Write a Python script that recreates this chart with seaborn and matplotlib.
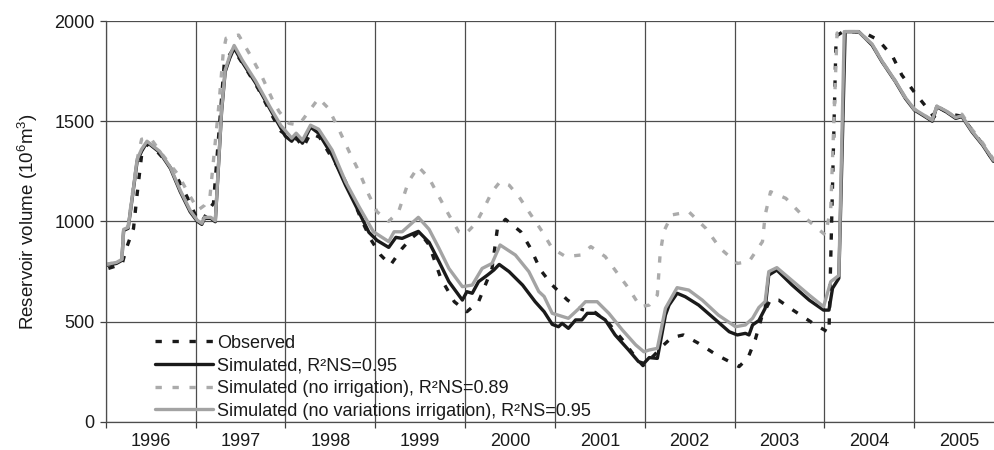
import matplotlib
matplotlib.use("Agg")
import matplotlib.pyplot as plt
import seaborn as sns
import numpy as np

# ---------------- data (decimal year, volume 10^6 m^3) ----------------
obs_t = [1996.03, 1996.10, 1996.18, 1996.23, 1996.31, 1996.35, 1996.40, 1996.47, 1996.58, 1996.68,
         1996.80, 1996.92, 1997.03, 1997.08, 1997.15, 1997.20, 1997.27, 1997.32, 1997.42, 1997.55,
         1997.70, 1997.85, 1997.95, 1998.05, 1998.13, 1998.20, 1998.28, 1998.38, 1998.50, 1998.60,
         1998.70, 1998.84, 1998.95, 1999.06, 1999.17, 1999.30, 1999.40, 1999.49, 1999.60, 1999.73,
         1999.88, 2000.02, 2000.15, 2000.30, 2000.36, 2000.45, 2000.62, 2000.73, 2000.84, 2000.97,
         2001.14, 2001.30, 2001.45, 2001.60, 2001.75, 2001.90, 2001.98, 2002.10, 2002.21, 2002.30,
         2002.43, 2002.60, 2002.80, 2003.05, 2003.15, 2003.23, 2003.30, 2003.40, 2003.49, 2003.65,
         2003.90, 2004.05, 2004.13, 2004.20, 2004.38, 2004.45, 2004.60, 2004.76, 2004.86, 2005.01,
         2005.16, 2005.22, 2005.27, 2005.40, 2005.53, 2005.65, 2005.76, 2005.88]
obs_v = [765, 775, 782, 865, 965, 1135, 1330, 1390, 1345, 1295,
         1215, 1110, 1000, 1005, 1060, 1090, 1500, 1790, 1860, 1770,
         1660, 1530, 1450, 1420, 1410, 1370, 1440, 1420, 1330, 1260,
         1170, 1015, 910, 832, 782, 865, 915, 948, 882, 716,
         599, 549, 599, 765, 965, 1010, 948, 865, 757, 682,
         607, 560, 545, 490, 410, 320, 280, 330, 383, 420,
         433, 391, 333, 275, 320, 410, 520, 610, 607, 557,
         483, 445, 1925, 1945, 1945, 1940, 1905, 1822, 1731, 1639,
         1556, 1520, 1570, 1535, 1525, 1450, 1385, 1300]

sim_t = [1996.00, 1996.12, 1996.18, 1996.20, 1996.25, 1996.31, 1996.35, 1996.40, 1996.46, 1996.60,
         1996.72, 1996.83, 1996.94, 1997.02, 1997.07, 1997.10, 1997.17, 1997.22, 1997.29, 1997.33,
         1997.38, 1997.43, 1997.52, 1997.67, 1997.83, 1997.95, 1998.00, 1998.07, 1998.12, 1998.19,
         1998.28, 1998.37, 1998.52, 1998.67, 1998.82, 1998.93, 1999.02, 1999.15, 1999.23, 1999.30,
         1999.40, 1999.48, 1999.60, 1999.71, 1999.82, 1999.97, 2000.02, 2000.08, 2000.15, 2000.25,
         2000.32, 2000.38, 2000.49, 2000.64, 2000.78, 2000.88, 2000.97, 2001.04, 2001.08, 2001.15,
         2001.23, 2001.30, 2001.36, 2001.45, 2001.56, 2001.67, 2001.82, 2001.93, 2001.99, 2002.05,
         2002.14, 2002.23, 2002.27, 2002.36, 2002.45, 2002.60, 2002.79, 2002.94, 2003.03, 2003.12,
         2003.16, 2003.20, 2003.27, 2003.34, 2003.38, 2003.47, 2003.64, 2003.83, 2003.99, 2004.05,
         2004.09, 2004.16, 2004.23, 2004.38, 2004.53, 2004.64, 2004.79, 2004.90, 2005.00, 2005.09,
         2005.20, 2005.25, 2005.35, 2005.46, 2005.53, 2005.64, 2005.76, 2005.88]
sim_v = [780, 790, 805, 955, 965, 1165, 1300, 1350, 1395, 1345,
         1265, 1148, 1048, 1000, 985, 1015, 1015, 998, 1548, 1747,
         1814, 1865, 1795, 1690, 1560, 1465, 1425, 1400, 1430, 1390,
         1470, 1440, 1330, 1180, 1045, 945, 905, 870, 920, 915,
         935, 950, 895, 799, 699, 607, 649, 641, 699, 732,
         757, 785, 749, 682, 599, 549, 486, 474, 491, 466,
         508, 508, 541, 541, 508, 433, 358, 300, 291, 320,
         316, 532, 582, 641, 624, 582, 508, 449, 433, 441,
         433, 483, 505, 566, 732, 757, 682, 607, 557, 557,
         666, 716, 1947, 1947, 1880, 1797, 1697, 1614, 1556, 1531,
         1500, 1572, 1548, 1514, 1523, 1448, 1381, 1300]

noirr_t = [1996.00, 1996.12, 1996.18, 1996.20, 1996.25, 1996.31, 1996.36, 1996.40, 1996.50, 1996.62,
           1996.81, 1996.92, 1997.03, 1997.10, 1997.16, 1997.26, 1997.31, 1997.34, 1997.48, 1997.63,
           1997.74, 1997.85, 1997.93, 1998.04, 1998.15, 1998.26, 1998.37, 1998.48, 1998.59, 1998.71,
           1998.82, 1998.93, 1999.02, 1999.15, 1999.26, 1999.37, 1999.48, 1999.60, 1999.71, 1999.82,
           1999.93, 2000.00, 2000.12, 2000.21, 2000.30, 2000.39, 2000.49, 2000.60, 2000.71, 2000.86,
           2000.97, 2001.12, 2001.29, 2001.40, 2001.56, 2001.71, 2001.82, 2001.95, 2002.05, 2002.14,
           2002.17, 2002.21, 2002.30, 2002.49, 2002.68, 2002.84, 2003.03, 2003.16, 2003.31, 2003.34,
           2003.40, 2003.57, 2003.75, 2003.92, 2004.01, 2004.07, 2004.14, 2004.22, 2004.38, 2004.53,
           2004.64, 2004.79, 2004.90, 2005.00, 2005.09, 2005.20, 2005.25, 2005.35, 2005.46, 2005.53,
           2005.64, 2005.76, 2005.88]
noirr_v = [785, 795, 810, 960, 975, 1180, 1330, 1410, 1415, 1340,
           1231, 1140, 1057, 1080, 1120, 1581, 1850, 1914, 1930, 1814,
           1722, 1614, 1548, 1489, 1481, 1548, 1614, 1564, 1464, 1348,
           1248, 1131, 1048, 1000, 1048, 1198, 1273, 1215, 1123, 1032,
           948, 935, 990, 1065, 1148, 1198, 1181, 1123, 1048, 948,
           865, 824, 832, 874, 824, 732, 666, 574, 582, 632,
           832, 948, 1032, 1048, 965, 865, 790, 799, 899, 1032,
           1148, 1115, 1032, 965, 932, 1065, 1940, 1947, 1947, 1885,
           1800, 1700, 1618, 1560, 1535, 1505, 1575, 1552, 1520, 1535,
           1460, 1392, 1310]

novar_t = [1996.00, 1996.12, 1996.18, 1996.20, 1996.25, 1996.31, 1996.35, 1996.40, 1996.46, 1996.60,
           1996.72, 1996.83, 1996.94, 1997.02, 1997.07, 1997.10, 1997.17, 1997.22, 1997.29, 1997.33,
           1997.38, 1997.43, 1997.52, 1997.67, 1997.83, 1997.95, 1998.04, 1998.07, 1998.12, 1998.19,
           1998.28, 1998.37, 1998.52, 1998.67, 1998.82, 1998.98, 1999.15, 1999.21, 1999.30, 1999.48,
           1999.60, 1999.71, 1999.82, 1999.97, 2000.08, 2000.19, 2000.30, 2000.39, 2000.56, 2000.71,
           2000.82, 2000.88, 2000.97, 2001.15, 2001.27, 2001.34, 2001.47, 2001.60, 2001.75, 2001.90,
           2001.99, 2002.05, 2002.14, 2002.23, 2002.36, 2002.49, 2002.64, 2002.82, 2003.01, 2003.12,
           2003.20, 2003.27, 2003.34, 2003.38, 2003.47, 2003.83, 2003.99, 2004.07, 2004.16, 2004.22,
           2004.38, 2004.53, 2004.64, 2004.79, 2004.90, 2005.00, 2005.09, 2005.20, 2005.25, 2005.35,
           2005.46, 2005.53, 2005.64, 2005.76, 2005.88]
novar_v = [785, 795, 810, 960, 970, 1170, 1310, 1360, 1400, 1350,
           1270, 1155, 1055, 1005, 990, 1020, 1020, 1003, 1555, 1755,
           1825, 1878, 1805, 1700, 1570, 1478, 1432, 1415, 1440, 1405,
           1480, 1460, 1356, 1198, 1073, 948, 899, 948, 948, 1020,
           960, 865, 765, 674, 682, 765, 790, 882, 832, 749,
           650, 625, 541, 516, 566, 599, 599, 541, 458, 383,
           349, 358, 366, 566, 669, 657, 607, 532, 474, 483,
           516, 570, 600, 749, 769, 632, 574, 699, 730, 1947,
           1947, 1885, 1800, 1700, 1618, 1560, 1535, 1505, 1575, 1552,
           1518, 1527, 1452, 1385, 1305]

labels = ["Observed",
          "Simulated, R\u00b2NS=0.95",
          "Simulated (no irrigation), R\u00b2NS=0.89",
          "Simulated (no variations irrigation), R\u00b2NS=0.95"]
year_labels = [str(y) for y in range(1996, 2006)]

# ---------------- style ----------------
sns.set_theme(style="white")
plt.rcParams['font.family'] = ['Liberation Sans', 'DejaVu Sans']
plt.rcParams['mathtext.fontset'] = 'custom'
plt.rcParams['mathtext.rm'] = 'Liberation Sans'
plt.rcParams['mathtext.it'] = 'Liberation Sans:italic'

fig = plt.figure(figsize=(9.95, 4.5), dpi=100)
ax = fig.add_axes([0.1062, 0.0629, 0.8938, 0.8904])

BLACK = "#1a1a1a"
GRAY_SOLID = "#a3a3a3"
GRAY_DASH = "#ababab"
LW = 2.4

sns.lineplot(x=obs_t, y=obs_v, ax=ax, color=BLACK, lw=LW, estimator=None,
             label=labels[0])
ax.lines[-1].set_dashes((1.9, 3.2))
sns.lineplot(x=sim_t, y=sim_v, ax=ax, color=BLACK, lw=LW, estimator=None,
             label=labels[1])
sns.lineplot(x=noirr_t, y=noirr_v, ax=ax, color=GRAY_DASH, lw=LW, estimator=None,
             label=labels[2])
ax.lines[-1].set_dashes((1.9, 3.2))
sns.lineplot(x=novar_t, y=novar_v, ax=ax, color=GRAY_SOLID, lw=LW, estimator=None,
             label=labels[3])

ax.set_xlim(1996.0, 2005.898)
ax.set_ylim(0, 2000)

ax.set_xticks(np.arange(1996, 2006))
ax.set_xticklabels([])
ax.set_xticks(np.arange(1996, 2006) + 0.5, minor=True)
ax.set_xticklabels(year_labels, minor=True, fontsize=13)
ax.set_yticks([0, 500, 1000, 1500, 2000])
ax.set_yticklabels(["0", "500", "1000", "1500", "2000"], fontsize=13)

ax.tick_params(axis='x', which='major', direction='out', length=4, width=0.9,
               color='#404040', bottom=True)
ax.tick_params(axis='x', which='minor', length=0, pad=8, colors='#1a1a1a', bottom=True)
ax.tick_params(axis='y', which='major', direction='out', length=4, width=0.9,
               color='#404040', pad=4, left=True, labelcolor='#1a1a1a')

ax.grid(True, which='major', color='#4d4d4d', lw=0.9)
ax.set_axisbelow(True)
for s in ['top', 'right']:
    ax.spines[s].set_visible(False)
for s in ['left', 'bottom']:
    ax.spines[s].set_color('#4d4d4d')
    ax.spines[s].set_linewidth(0.9)

ax.set_xlabel("")
ax.set_ylabel(r"Reservoir volume (10$^{\mathrm{6}}$m$^{\mathrm{3}}$)", fontsize=13.5,
              color='#1a1a1a', labelpad=10)

leg = ax.legend(loc='lower left', bbox_to_anchor=(0.053, 0.0), frameon=False,
                handlelength=3.2, handletextpad=0.25, labelspacing=0.31,
                borderpad=0, borderaxespad=0.12, fontsize=13)
for t in leg.get_texts():
    t.set_color('#1a1a1a')

fig.savefig("out.png", dpi=100, facecolor='white')
